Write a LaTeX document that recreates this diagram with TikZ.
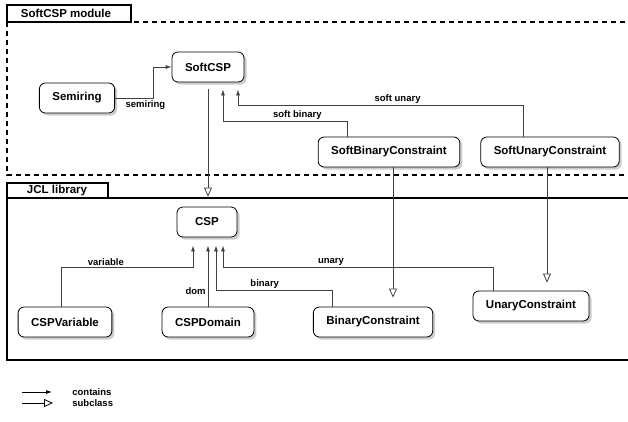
\documentclass[tikz,border=0pt]{standalone}
\usepackage{fontspec}
\setmainfont{Liberation Sans}
\usetikzlibrary{positioning,arrows.meta,shadows}

\begin{document}
\begin{tikzpicture}[x=1pt, y=-1pt, on grid, line width=0.8pt,
    cls/.style={rectangle, rounded corners=6pt, draw=black, fill=white, minimum height=30pt, minimum width=60pt, inner xsep=13pt, font=\fontsize{11.5}{13}\selectfont\bfseries, drop shadow={shadow xshift=2.5pt, shadow yshift=-2.5pt, fill=black!40}},
    tab/.style={font=\fontsize{11.5}{13}\selectfont\bfseries, inner sep=0pt},
    lbl/.style={font=\fontsize{9.5}{11}\selectfont\bfseries, inner sep=2pt},
    contains/.style={draw=black!75, -{Latex[length=6pt,width=4pt]}},
    subclass/.style={draw=black!75, -{Triangle[open,length=9pt,width=8pt]}}]
		\useasboundingbox (0,0) rectangle (628,421);
		\clip (0,0) rectangle (628,421);
		% package frames
		\draw[line width=1.2pt, dash pattern=on 5pt off 4pt] (7,22) rectangle (640,175);
		\draw[line width=1.2pt, fill=white] (7,5) rectangle (131,22);
		\node[tab] (modtab) at (66,13.5) {SoftCSP module};
		\draw[line width=1.2pt] (7,198) rectangle (640,360);
		\draw[line width=1.2pt, fill=white] (7,183) rectangle (108,198);
		\node[tab] (jcltab) at (57,190.5) {JCL library};
		% classes
		\node[cls] (SoftCSP) at (208,67) {SoftCSP};
		\node[cls] (Semiring) at (77,98) {Semiring};
		\node[cls] (SBC) at (389,152) {SoftBinaryConstraint};
		\node[cls] (SUC) [right=161pt of SBC] {SoftUnaryConstraint};
		\node[cls] (CSP) at (207,222) {CSP};
		\node[cls] (CSPDomain) at (208,322) {CSPDomain};
		\node[cls] (CSPVariable) [left=143pt of CSPDomain] {CSPVariable};
		\node[cls] (BC) [right=165pt of CSPDomain] {BinaryConstraint};
		\node[cls] (UC) at (531,306) {UnaryConstraint};
		% contains
		\draw[contains] (Semiring.east) -- node[lbl, below, pos=0.8] {semiring} ++(38,0) |- (SoftCSP.west);
		\draw[contains, shorten >=7pt] ([xshift=-42pt]SBC.north) -- ++(0,-15) -| node[lbl, above, pos=0.2] {soft binary} ([xshift=15pt]SoftCSP.south);
		\draw[contains, shorten >=7pt] ([xshift=-27pt]SUC.north) -- ++(0,-31) -| node[lbl, above, pos=0.22] {soft unary} ([xshift=30pt]SoftCSP.south);
		\draw[contains, shorten >=8pt] ([xshift=-4pt]CSPVariable.north) -- ++(0,-39) -| node[lbl, above, pos=0.17] {variable} ([xshift=-14pt]CSP.south);
		\draw[contains, shorten >=8pt] (CSPDomain.north) -- node[lbl, left, pos=0.23] {dom} (CSPDomain.north |- CSP.south);
		\draw[contains, shorten >=8pt] ([xshift=-41pt]BC.north) -- ++(0,-16) -| node[lbl, above, pos=0.29] {binary} ([xshift=9pt]CSP.south);
		\draw[contains, shorten >=8pt] ([xshift=-38pt]UC.north) -- ++(0,-23) -| node[lbl, above, pos=0.3] {unary} ([xshift=16pt]CSP.south);
		% subclass
		\draw[subclass, shorten <=7pt, shorten >=10pt] (SoftCSP.south) -- (SoftCSP.south |- CSP.north);
		\draw[subclass, shorten >=9pt] ([xshift=4pt]SBC.south) -- ([xshift=4pt]SBC.south |- BC.north);
		\draw[subclass, shorten >=8pt] ([xshift=-3pt]SUC.south) -- ([xshift=-3pt]SUC.south |- UC.north);
		% legend
		\coordinate (k1) at (22,392);
		\coordinate (k2) at (52,392);
		\coordinate (k3) at (22,403);
		\coordinate (k4) at (53,403);
		\draw[contains, draw=black] (k1) -- (k2);
		\draw[subclass, draw=black] (k3) -- (k4);
		\node[lbl, anchor=west] (kcontains) at (70,392) {contains};
		\node[lbl, anchor=west] (ksubclass) at (70,403) {subclass};
		\end{tikzpicture}
\end{document}
